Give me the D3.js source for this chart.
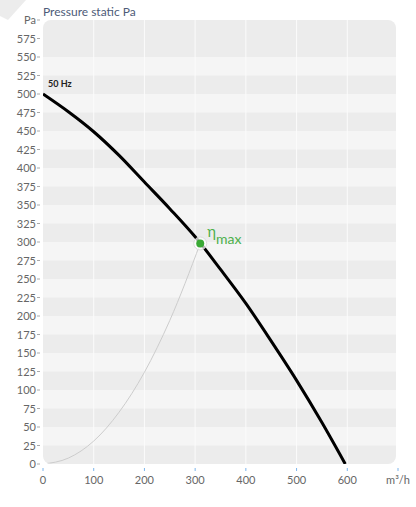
<html>
<head>
<style>
    body { margin: 0; background: #fff; }
    text { font-family: Lato, "Open Sans", sans-serif; }
</style>
</head>
<body>
    <svg id="container" width="416" height="507"></svg>
</body>
<script src="https://cdn.jsdelivr.net/npm/d3@7"></script>
<script>
    // fan curve 50 Hz (m3/h -> Pa)
    let fanFlow = [0, 50, 100, 150, 200, 250, 300, 350, 400, 450, 500, 550, 596]
    let fanPressure = [500, 476, 449, 417, 381, 345, 307, 263, 217, 166, 113, 56, 0]

    // system curve up to the eta max point
    let sysFlow = [0, 50, 100, 150, 200, 250, 310]
    let sysPressure = [0, 8, 31, 70, 124, 194, 298]

    let etaPoint = [310, 298]

    let xTicks = [0, 100, 200, 300, 400, 500, 600, 700]
    let yTicks = d3.range(0, 601, 25)

    let container = d3.select("#container")

    let x = d3.scaleLinear().domain([0, 700]).range([43, 398])
    let y = d3.scaleLinear().domain([0, 600]).range([464, 20])

    // faint watermark corner
    container.append("path")
        .attr("d", "M0,0 L26,0 L8,20 L0,16 Z")
        .attr("fill", "#ececec")

    // plot background with rounded corners
    let clip = container.append("defs").append("clipPath").attr("id", "plotclip")
    clip.append("rect")
        .attr("x", x(0)).attr("y", y(600))
        .attr("width", x(700) - x(0) - 2).attr("height", y(0) - y(600))
        .attr("rx", 8)

    let plot = container.append("g").attr("clip-path", "url(#plotclip)")
    plot.append("rect")
        .attr("x", x(0)).attr("y", y(600))
        .attr("width", x(700) - x(0)).attr("height", y(0) - y(600))
        .attr("fill", "#ececec")

    // lighter alternate bands
    let bands = d3.range(25, 550, 50)
    plot.selectAll(".band")
        .data(bands)
        .enter()
        .append("rect")
        .attr("x", x(0))
        .attr("width", x(700) - x(0))
        .attr("y", d => y(d + 25))
        .attr("height", d => y(d) - y(d + 25))
        .attr("fill", "#f5f5f5")

    plot.selectAll(".vgrid")
        .data(xTicks.slice(1, 7))
        .enter()
        .append("line")
        .attr("x1", d => x(d)).attr("x2", d => x(d))
        .attr("y1", y(600)).attr("y2", y(0))
        .attr("stroke", "#fbfbfb")
        .attr("stroke-width", 1)

    // y axis
    let yAxis = container.append("g")
    yAxis.selectAll("text")
        .data(yTicks)
        .enter()
        .append("text")
        .attr("x", 36)
        .attr("y", d => y(d) + 4)
        .attr("text-anchor", "end")
        .attr("font-size", 11)
        .attr("fill", "#666")
        .text(d => d == 600 ? "Pa" : d)
    yAxis.selectAll("line")
        .data(yTicks)
        .enter()
        .append("line")
        .attr("x1", 37).attr("x2", 40)
        .attr("y1", d => y(d)).attr("y2", d => y(d))
        .attr("stroke", "#aaa")

    // x axis
    let xAxis = container.append("g")
    xAxis.selectAll("line")
        .data(xTicks)
        .enter()
        .append("line")
        .attr("x1", d => x(d)).attr("x2", d => x(d))
        .attr("y1", 468).attr("y2", 471)
        .attr("stroke", "#7cb5ec")
    xAxis.selectAll("text")
        .data(xTicks)
        .enter()
        .append("text")
        .attr("x", d => x(d))
        .attr("y", 484)
        .attr("text-anchor", "middle")
        .attr("font-size", 11)
        .attr("fill", "#666")
        .text(d => d == 700 ? "m³/h" : d)

    container.append("text")
        .attr("x", 43).attr("y", 16)
        .attr("font-size", 12)
        .attr("fill", "#4d5b78")
        .text("Pressure static Pa")

    let line = d3.line()
        .x(d => x(d[0]))
        .y(d => y(d[1]))
        .curve(d3.curveMonotoneX)

    // system curve
    plot.append("path")
        .datum(sysFlow.map((f, i) => [f, sysPressure[i]]))
        .attr("d", line)
        .attr("fill", "none")
        .attr("stroke", "#cccccc")
        .attr("stroke-width", 1)

    // fan curve
    plot.append("path")
        .datum(fanFlow.map((f, i) => [f, fanPressure[i]]))
        .attr("d", line)
        .attr("fill", "none")
        .attr("stroke", "#000")
        .attr("stroke-width", 3)

    container.append("text")
        .attr("x", x(fanFlow[0]) + 5).attr("y", y(fanPressure[0]) - 7)
        .attr("font-size", 9)
        .attr("font-weight", "bold")
        .attr("fill", "#222")
        .text("50 Hz")

    // eta max marker
    container.append("circle")
        .attr("cx", x(etaPoint[0])).attr("cy", y(etaPoint[1]))
        .attr("r", 6.5)
        .attr("fill", "#fff")
        .attr("fill-opacity", 0.7)
        .attr("stroke", "#ddd")
    container.append("circle")
        .attr("cx", x(etaPoint[0])).attr("cy", y(etaPoint[1]))
        .attr("r", 4)
        .attr("fill", "#3aa935")

    let eta = container.append("text")
        .attr("x", x(etaPoint[0]) + 7).attr("y", y(etaPoint[1]) - 6)
        .attr("fill", "#4cb04a")
    eta.append("tspan").attr("font-size", 15).text("η")
    eta.append("tspan").attr("font-size", 14).attr("dy", 7).text("max")
</script>
</html>
